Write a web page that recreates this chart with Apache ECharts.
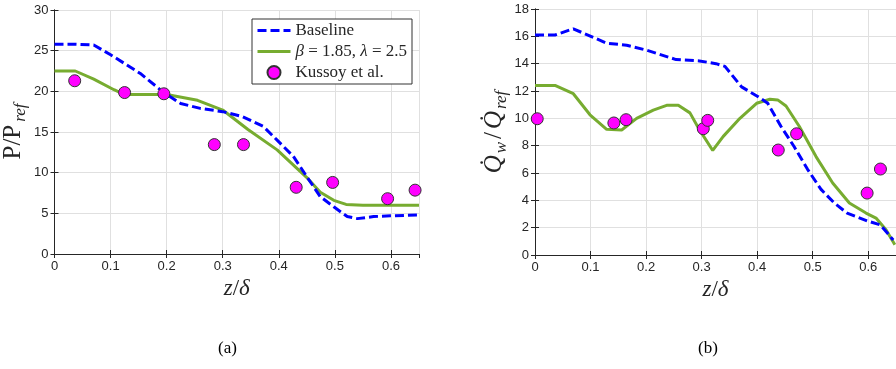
<!DOCTYPE html>
<html><head><meta charset="utf-8">
<script src="https://cdn.jsdelivr.net/npm/echarts@6/dist/echarts.min.js"></script>
<style>html,body{margin:0;padding:0;background:#fff}#c{width:896px;height:369px}</style>
</head><body><div id="c"></div>
<script>
// ---- data: panel (a) pressure ----
const pBaseX = [0, 0.035, 0.07, 0.1, 0.153, 0.194, 0.225, 0.26, 0.3, 0.335, 0.372, 0.397, 0.426, 0.45, 0.474, 0.498, 0.522, 0.54, 0.569, 0.599, 0.65];
const pBaseY = [25.8, 25.8, 25.7, 24.5, 22.2, 19.9, 18.5, 17.9, 17.5, 16.9, 15.7, 14.0, 12.0, 9.5, 7.05, 5.8, 4.6, 4.35, 4.6, 4.7, 4.8];
const pModX = [0, 0.037, 0.07, 0.106, 0.125, 0.2, 0.255, 0.3, 0.345, 0.397, 0.45, 0.474, 0.498, 0.52, 0.55, 0.6, 0.65];
const pModY = [22.5, 22.5, 21.5, 20.2, 19.6, 19.6, 18.9, 17.7, 15.3, 12.8, 9.4, 7.6, 6.6, 6.1, 6.0, 6.0, 6.0];
const pExpX = [0.036, 0.125, 0.195, 0.285, 0.337, 0.431, 0.496, 0.594, 0.643];
const pExpY = [21.3, 19.85, 19.7, 13.45, 13.45, 8.2, 8.8, 6.8, 7.85];
// ---- data: panel (b) heat flux ----
const qBaseX = [0, 0.036, 0.069, 0.129, 0.165, 0.2, 0.254, 0.296, 0.326, 0.342, 0.372, 0.401, 0.419, 0.443, 0.467, 0.491, 0.515, 0.539, 0.562, 0.598, 0.622, 0.645];
const qBaseY = [16.1, 16.1, 16.55, 15.5, 15.35, 15.0, 14.3, 14.2, 14.0, 13.8, 12.3, 11.6, 11.1, 9.4, 7.9, 6.25, 4.8, 3.8, 3.07, 2.5, 2.2, 1.1];
const qModX = [0, 0.037, 0.069, 0.099, 0.129, 0.156, 0.183, 0.213, 0.237, 0.258, 0.279, 0.296, 0.32, 0.339, 0.369, 0.399, 0.423, 0.437, 0.452, 0.476, 0.506, 0.536, 0.566, 0.596, 0.614, 0.632, 0.648];
const qModY = [12.4, 12.4, 11.8, 10.26, 9.2, 9.15, 10.0, 10.6, 10.95, 10.95, 10.4, 9.17, 7.65, 8.68, 10.0, 11.1, 11.4, 11.35, 10.9, 9.4, 7.2, 5.27, 3.8, 3.07, 2.7, 1.85, 0.75];
const qExpX = [0.004, 0.142, 0.164, 0.303, 0.311, 0.438, 0.471, 0.598, 0.622];
const qExpY = [9.97, 9.66, 9.9, 9.24, 9.85, 7.68, 8.87, 4.53, 6.29];
// ---- axis ticks ----
const xTicks = [0, 0.1, 0.2, 0.3, 0.4, 0.5, 0.6];
const pTicks = [0, 5, 10, 15, 20, 25, 30];
const qTicks = [0, 2, 4, 6, 8, 10, 12, 14, 16, 18];
const seriesNames = ['Baseline', 'β = 1.85, λ = 2.5', 'Kussoy et al.'];

const zip = (xs, ys) => xs.map((x, i) => [x, ys[i]]);
const AX = '#262626', GRID = '#e0e0e0', SERIF = '"Liberation Serif","DejaVu Serif",serif', SANS = '"Liberation Sans",Arial,sans-serif';
const BLUE = '#0000ff', GREEN = '#77ac30', MAG = '#ff00ff';

function xFmt(v) { const r = Math.round(v * 10) / 10; if (Math.abs(v - r) > 1e-6) return ''; return String(r); }
function mainX(gi) {
  return { type: 'value', gridIndex: gi, min: 0, max: 0.65, interval: 0.1,
    axisLine: { show: true, lineStyle: { color: AX, width: 1 } },
    axisTick: { show: true, inside: true, length: 4, lineStyle: { color: AX } },
    axisLabel: { color: AX, fontFamily: SANS, fontSize: 13, margin: 6, formatter: xFmt, showMaxLabel: false },
    splitLine: { show: true, lineStyle: { color: GRID, width: 1 } },
    name: '{i|z}{n|/}{i|δ}', nameLocation: 'middle', nameGap: 16,
    nameTextStyle: { rich: { i: { fontFamily: SERIF, fontStyle: 'italic', fontSize: 23, color: AX }, n: { fontFamily: SERIF, fontSize: 23, color: AX } } } };
}
function topX(gi) {
  return { type: 'value', gridIndex: gi, position: 'top', min: 0, max: 0.65, interval: 0.1,
    axisLine: { show: true, lineStyle: { color: AX, width: 1 } },
    axisTick: { show: true, inside: true, length: 4, lineStyle: { color: AX } },
    axisLabel: { show: false }, splitLine: { show: false } };
}
function mainY(gi, max, iv, name, rich) {
  return { type: 'value', gridIndex: gi, min: 0, max: max, interval: iv,
    axisLine: { show: true, lineStyle: { color: AX, width: 1 } },
    axisTick: { show: true, inside: true, length: 4, lineStyle: { color: AX } },
    axisLabel: { color: AX, fontFamily: SANS, fontSize: 13, margin: 6 },
    splitLine: { show: true, lineStyle: { color: GRID, width: 1 } },
    name: name, nameLocation: 'middle', nameRotate: 90, nameGap: 25,
    nameTextStyle: { rich: rich } };
}
function rightY(gi, max, iv) {
  return { type: 'value', gridIndex: gi, position: 'right', min: 0, max: max, interval: iv,
    axisLine: { show: true, lineStyle: { color: AX, width: 1 } },
    axisTick: { show: true, inside: true, length: 4, lineStyle: { color: AX } },
    axisLabel: { show: false }, splitLine: { show: false } };
}
const richLab = {
  m: { fontFamily: SERIF, fontSize: 25, color: AX, lineHeight: 32, verticalAlign: 'middle', padding: [0, 2, 0, 2] },
  mi: { fontFamily: SERIF, fontStyle: 'italic', fontSize: 25, color: AX, lineHeight: 32, verticalAlign: 'middle', padding: [0, 1, 0, 1] },
  s: { fontFamily: SERIF, fontStyle: 'italic', fontSize: 17, color: AX, lineHeight: 21, verticalAlign: 'bottom', padding: [0, 1, 0, 1] }
};

const lineBase = (xi, yi, d) => ({ name: seriesNames[0], type: 'line', xAxisIndex: xi, yAxisIndex: yi, data: d, showSymbol: false, symbol: 'none',
  lineStyle: { color: BLUE, width: 3, type: [9, 4] }, itemStyle: { color: BLUE }, z: 3 });
const lineMod = (xi, yi, d) => ({ name: seriesNames[1], type: 'line', xAxisIndex: xi, yAxisIndex: yi, data: d, showSymbol: false, symbol: 'none',
  lineStyle: { color: GREEN, width: 3, type: 'solid' }, itemStyle: { color: GREEN }, z: 2 });
const scat = (xi, yi, d) => ({ name: seriesNames[2], type: 'scatter', xAxisIndex: xi, yAxisIndex: yi, data: d, symbol: 'circle', symbolSize: 12,
  itemStyle: { color: MAG, borderColor: '#333', borderWidth: 1, opacity: 1 }, z: 4 });

const chart = echarts.init(document.getElementById('c'), null, { renderer: 'canvas' });
chart.setOption({
  animation: false,
  backgroundColor: '#fff',
  grid: [
    { left: 54, top: 10, width: 365, height: 244 },
    { left: 535, top: 9, right: -2, height: 246 }
  ],
  xAxis: [mainX(0), topX(0), mainX(1), topX(1)],
  yAxis: [
    mainY(0, 30, 5, '{m|P/P}{s|ref}', richLab), rightY(0, 30, 5),
    mainY(1, 18, 2, '{mi|Q̇}{s|w}{m|/}{mi|Q̇}{s|ref}', richLab), rightY(1, 18, 2)
  ],
  legend: {
    data: [
      { name: seriesNames[0], itemStyle: { opacity: 0 }, lineStyle: { width: 3, type: [9, 4], color: BLUE } },
      { name: seriesNames[1], itemStyle: { opacity: 0 }, lineStyle: { width: 3, color: GREEN } },
      { name: seriesNames[2] }
    ],
    orient: 'vertical', left: 252, top: 19,
    backgroundColor: '#fff', borderColor: '#333', borderWidth: 1, borderRadius: 0,
    padding: [3, 5, 3, 4], itemWidth: 33, itemHeight: 13, itemGap: 4, itemTextGap: 3,
    textStyle: { fontFamily: SERIF, fontSize: 17, color: AX, lineHeight: 16,
      rich: { i: { fontFamily: SERIF, fontStyle: 'italic', fontSize: 17, color: AX } } },
    formatter: n => n.replace(/([βλ])/g, '{i|$1}')
  },
  graphic: [
    { type: 'text', left: 218, top: 340, style: { text: '(a)', font: '17px ' + SERIF, fill: '#000' } },
    { type: 'text', left: 698, top: 340, style: { text: '(b)', font: '17px ' + SERIF, fill: '#000' } }
  ],
  series: [
    lineBase(0, 0, zip(pBaseX, pBaseY)), lineMod(0, 0, zip(pModX, pModY)), scat(0, 0, zip(pExpX, pExpY)),
    lineBase(2, 2, zip(qBaseX, qBaseY)), lineMod(2, 2, zip(qModX, qModY)), scat(2, 2, zip(qExpX, qExpY))
  ]
});
</script></body></html>
